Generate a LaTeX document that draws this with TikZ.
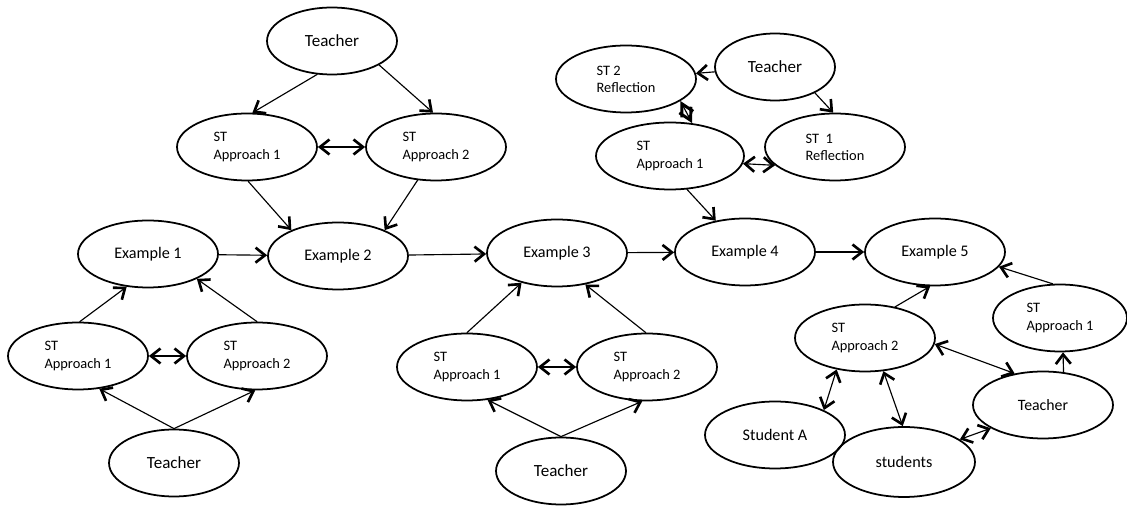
\documentclass[tikz,border=0pt]{standalone}
\usepackage{fontspec}
\setmainfont{Carlito}
\usetikzlibrary{shapes.geometric,arrows.meta}
\begin{document}
\begin{tikzpicture}[x=0.02cm,y=-0.02cm,line cap=round,line join=round,
  bub/.style={draw,ellipse,line width=1pt,inner sep=0pt,minimum width=2.8cm,minimum height=1.34cm,font=\fontsize{9.2}{11}\selectfont},
  tch/.style={bub,minimum width=2.6cm,font=\fontsize{9.7}{11}\selectfont},
  stn/.style={bub,align=left,font=\fontsize{8.2}{9.8}\selectfont},
  link/.style={line width=0.65pt,-{Straight Barb[length=1.9mm,width=3mm,line width=1.5pt]}},
  twoway/.style={line width=0.65pt,{Straight Barb[length=1.9mm,width=3mm,line width=1.5pt]}-{Straight Barb[length=1.9mm,width=3mm,line width=1.5pt]}},
  diam/.style={line width=0.65pt,{Straight Barb[length=2.4mm,width=2.6mm,line width=1.7pt]}-{Straight Barb[length=2.4mm,width=2.6mm,line width=1.7pt]}}]
  \useasboundingbox (0,0) rectangle (1127,506);
  \node[tch] (tchA) at (332,41) {Teacher};
  \node[stn] (apA1) at (247,147) {ST\\Approach 1};
  \node[stn] (apA2) at (436,147) {ST\\Approach 2};
  \node[bub] (ex1) at (148,254) {Example 1};
  \node[bub] (ex2) at (338,256) {Example 2};
  \node[stn] (apB1) at (78,356) {ST\\Approach 1};
  \node[stn] (apB2) at (257,356) {ST\\Approach 2};
  \node[tch] (tchB) at (174,463) {Teacher};
  \node[bub] (ex3) at (557,253) {Example 3};
  \node[stn] (apC1) at (467,367) {ST\\Approach 1};
  \node[stn] (apC2) at (647,367) {ST\\Approach 2};
  \node[tch] (tchC) at (561,471) {Teacher};
  \node[bub] (ex4) at (745,252) {Example 4};
  \node[bub] (ex5) at (935,252) {Example 5};
  \node[stn] (refl2) at (626,79) {ST 2\\Reflection};
  \node[tch,minimum width=2.4cm] (tchD) at (775,67) {Teacher};
  \node[stn,minimum width=2.96cm] (apD1) at (670,156) {ST\\Approach 1};
  \node[stn] (refl1) at (835,147) {ST\ \ 1\\Reflection};
  \node[stn] (apE2) at (865,338) {ST\\Approach 2};
  \node[stn,minimum width=2.68cm] (apE1) at (1060,318) {ST\\Approach 1};
  \node[tch,minimum width=2.8cm,font=\fontsize{9}{11}\selectfont] (tchE) at (1043,405) {Teacher};
  \node[bub] (stuA) at (775,435) {Student A};
  \node[bub,minimum width=2.84cm,minimum height=1.4cm] (stus) at (904,462) {students};
  \draw[link] (tchA.-114) -- (apA1.81);
  \draw[link] (tchA.-27.5) -- (apA2.95);
  \draw[twoway] (apA1) -- (apA2);
  \draw[link] (apA1.-88) -- (ex2.151);
  \draw[link] (apA2.241.5) -- (ex2.29);
  \draw[link] (ex1) -- (ex2);
  \draw[link] (apB1.87) -- (ex1.237.5);
  \draw[link] (apB2.90) -- (ex1.-27);
  \draw[twoway] (apB1) -- (apB2);
  \draw[link] (tchB.90) -- (apB1.-57);
  \draw[link] (tchB.90) -- (apB2.-93);
  \draw[link] (ex2) -- (ex3);
  \draw[link] (ex3) -- (ex4);
  \draw[link] (ex4) -- (ex5);
  \draw[link] (apC1.90) -- (ex3.220);
  \draw[link] (apC2.92) -- (ex3.-48.5);
  \draw[twoway] (apC1) -- (apC2);
  \draw[link] (tchC.90) -- (apC1.-58);
  \draw[link] (tchC.90) -- (apC2.-98);
  \draw[link] (apD1.-63) -- (ex4.133);
  \draw[link] (tchD) -- (refl2);
  \draw[link] (tchD.-33) -- (refl1.93);
  \draw[diam] (refl2.-22) -- (apD1.56);
  \draw[twoway] (apD1.-6) -- (refl1.197);
  \draw[link] (apE2.46) -- (ex5.-98);
  \draw[link] (apE1.102) -- (ex5.-13.6);
  \draw[twoway] (apE2.-5) -- (tchE.132);
  \draw[link] (tchE.58) -- (apE1.-85);
  \draw[twoway] (apE2.-61) -- (stus.92);
  \draw[twoway] (apE2.228.5) -- (stuA.27.5);
  \draw[twoway] (stus.22.5) -- (tchE.204);
\end{tikzpicture}
\end{document}
